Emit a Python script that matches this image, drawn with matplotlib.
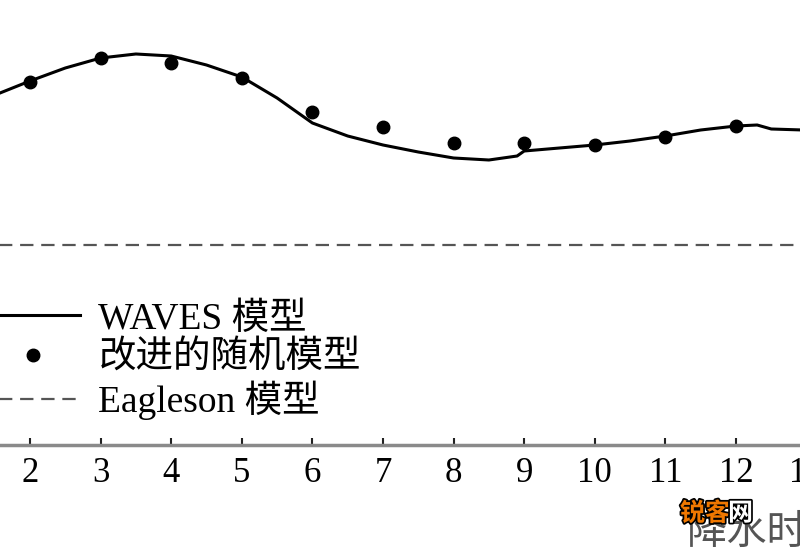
import numpy as np
import matplotlib.pyplot as plt
import matplotlib.patheffects as pe

plt.rcParams['font.family'] = ['Liberation Serif', 'Noto Sans CJK SC']

# month index and values
months = [2, 3, 4, 5, 6, 7, 8, 9, 10, 11, 12, 13]
random_model = [3.63, 3.87, 3.82, 3.67, 3.33, 3.18, 3.02, 3.02, 3.00, 3.08, 3.19, 3.28]

waves_x = [1.575, 2.0, 2.5, 3.0, 3.5, 4.0, 4.5, 5.0, 5.5, 6.0, 6.5, 7.0, 7.5, 8.0,
           8.5, 8.9, 9.0, 9.5, 10.0, 10.5, 11.0, 11.5, 12.0, 12.3, 12.5, 12.95]
waves_y = [3.52, 3.64, 3.77, 3.87, 3.91, 3.89, 3.80, 3.68, 3.47, 3.22, 3.09, 3.00, 2.93, 2.87,
           2.85, 2.89, 2.94, 2.97, 3.00, 3.04, 3.09, 3.15, 3.19, 3.20, 3.16, 3.15]

eagleson = 2.00

tick_vals = list(range(2, 14))
labels = ['WAVES 模型', '改进的随机模型', 'Eagleson 模型']

fig = plt.figure(figsize=(8, 5.5), dpi=100)
ax = fig.add_axes([-0.1, 105 / 550, 1.2, 445 / 550])

l1, = ax.plot(waves_x, waves_y, color='black', lw=2.2, label=labels[0])
l2, = ax.plot(months, random_model, 'o', color='black', ms=9, label=labels[1])
l3 = ax.axhline(eagleson, color='#555555', lw=1.6, dashes=(6, 3.5), label=labels[2])

ax.set_xlim(0.442, 14.04)
ax.set_ylim(0, 4.45)
ax.set_xticks(tick_vals)
ax.set_yticks([])
for s in ['top', 'right', 'left']:
    ax.spines[s].set_visible(False)
ax.spines['bottom'].set_color('#8a8a8a')
ax.spines['bottom'].set_linewidth(2.5)
ax.tick_params(axis='x', direction='in', length=5, width=1.5, color='#222222',
               labelsize=25, pad=9)

ax.legend(handles=[l1, l2, l3], loc='center left',
          bbox_to_anchor=(-14 / 800, 1 - 361 / 550), bbox_transform=fig.transFigure,
          frameon=False, fontsize=27, handlelength=2.5, handletextpad=0.5,
          labelspacing=0.12, borderpad=0, borderaxespad=0)

fig.text(687 / 800, 1 - 534 / 550, '降水时间', fontsize=29, color='#555555',
         ha='left', va='center')
wm = fig.text(680 / 800, 1 - 514 / 550, '锐客', fontsize=18, color='#f07800',
              ha='left', va='center', fontweight='bold')
wm.set_path_effects([pe.withStroke(linewidth=2.5, foreground='black')])
wm2 = fig.text(728 / 800, 1 - 514 / 550, '网', fontsize=18, color='white',
               ha='left', va='center', fontweight='bold')
wm2.set_path_effects([pe.withStroke(linewidth=2.5, foreground='black')])

fig.savefig('out.png', dpi=100)
